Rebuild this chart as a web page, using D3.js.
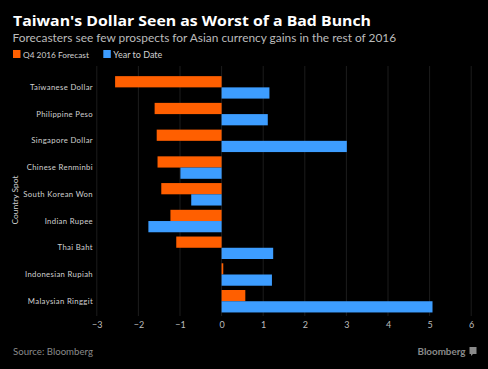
<!DOCTYPE html>
<html><head><meta charset="utf-8">
<script src="https://cdn.jsdelivr.net/npm/d3@7"></script>
<style>
html,body{margin:0;padding:0;background:#000;}
svg{display:block;font-family:Lato,"Open Sans",sans-serif;}
</style></head>
<body>
<svg id="chart" width="488" height="369"></svg>
<script>
const categories = ["Taiwanese Dollar","Philippine Peso","Singapore Dollar","Chinese Renminbi","South Korean Won","Indian Rupee","Thai Baht","Indonesian Rupiah","Malaysian Ringgit"];
const forecastQ4 = [-2.56,-1.61,-1.56,-1.54,-1.45,-1.23,-1.09,0.04,0.57];
const yearToDate = [1.15,1.11,3.01,-0.99,-0.73,-1.76,1.24,1.21,5.07];
const xTicks = [-3,-2,-1,0,1,2,3,4,5,6];
const seriesNames = ["Q4 2016 Forecast","Year to Date"];
const seriesColors = ["#ff5f00","#3d9dff"];

const svg = d3.select("#chart");
svg.append("rect").attr("width",488).attr("height",369).attr("fill","#000");

const x = d3.scaleLinear().domain([-3,6]).range([96.8,471.2]);
const y = d3.scaleBand().domain(categories).range([74,314.6]).paddingInner(0.16).paddingOuter(0.08);
const sub = d3.scaleBand().domain([0,1]).range([0,y.bandwidth()]);

// gridlines
svg.append("g").selectAll("line").data(xTicks).join("line")
  .attr("x1",d=>x(d)).attr("x2",d=>x(d)).attr("y1",66).attr("y2",316)
  .attr("stroke","#1c1c1c").attr("stroke-width",1);

// bars
const series = [forecastQ4, yearToDate];
series.forEach((vals,si)=>{
  svg.append("g").selectAll("rect").data(categories).join("rect")
    .attr("x",(c,i)=>x(Math.min(0,vals[i])))
    .attr("width",(c,i)=>Math.abs(x(vals[i])-x(0)))
    .attr("y",c=>y(c)+sub(si))
    .attr("height",sub.bandwidth())
    .attr("fill",seriesColors[si]);
});

function fitSize(sel, target){
  const w = sel.node().getComputedTextLength();
  const fs = parseFloat(sel.attr("font-size"));
  sel.attr("font-size", (fs*target/w).toFixed(2)+"px");
}

// category labels
const yAxis = d3.axisLeft(y).tickSize(0).tickPadding(0);
const gy = svg.append("g").attr("transform","translate(93,0)").call(yAxis);
gy.select(".domain").remove();
gy.selectAll("text").attr("fill","#d0d0d0").attr("font-size","9px").attr("letter-spacing","0.35px").attr("font-family","Lato,sans-serif");
{
  const t = gy.selectAll("text").filter(d=>d==="South Korean Won");
  const w = t.node().getComputedTextLength();
  gy.selectAll("text").attr("font-size",(9*69/w).toFixed(2)+"px");
}

// x axis
const xAxis = d3.axisBottom(x).tickValues(xTicks).tickSize(0).tickPadding(0).tickFormat(d3.format("d"));
const gx = svg.append("g").attr("transform","translate(0,322)").call(xAxis);
gx.select(".domain").remove();
gx.selectAll("text").attr("fill","#bdbdbd").attr("font-size","9px").attr("font-family","Lato,sans-serif");

// y title
svg.append("text").attr("transform","translate(18,200) rotate(-90)")
  .attr("text-anchor","middle").attr("fill","#d0d0d0").attr("font-size","10px")
  .text("Country Spot").call(s=>fitSize(s,49));

// title
svg.append("text").attr("x",13).attr("y",26).attr("fill","#fff")
  .attr("font-size","15px").attr("font-weight","bold").attr("font-family","'Open Sans',sans-serif")
  .attr("textLength",358).attr("lengthAdjust","spacingAndGlyphs")
  .text("Taiwan's Dollar Seen as Worst of a Bad Bunch");
svg.append("text").attr("x",12.5).attr("y",41.5).attr("fill","#bbbbbb")
  .attr("font-size","12px")
  .text("Forecasters see few prospects for Asian currency gains in the rest of 2016").call(s=>fitSize(s,384));

// legend
const legX = [13,103.3];
const legW = [66,49];
seriesNames.forEach((n,i)=>{
  svg.append("rect").attr("x",legX[i]).attr("y",50).attr("width",7.5).attr("height",8).attr("fill",seriesColors[i]);
  svg.append("text").attr("x",legX[i]+10).attr("y",57.5).attr("fill","#d0d0d0").attr("font-size","9px").text(n)
    .call(s=>fitSize(s,legW[i]));
});

// source
svg.append("text").attr("x",13).attr("y",355).attr("fill","#8a8a8a").attr("font-size","10px").text("Source: Bloomberg")
  .call(s=>fitSize(s,80));
svg.append("text").attr("x",465.5).attr("y",355).attr("text-anchor","end").attr("fill","#8a8a8a")
  .attr("font-size","10px").attr("font-weight","bold").text("Bloomberg").call(s=>fitSize(s,48));
svg.append("rect").attr("x",469.5).attr("y",347).attr("width",7).attr("height",7).attr("fill","#8a8a8a");
svg.append("path").attr("d","M471,356 l2,-2 h-2 z").attr("fill","#8a8a8a");
</script>
</body></html>
